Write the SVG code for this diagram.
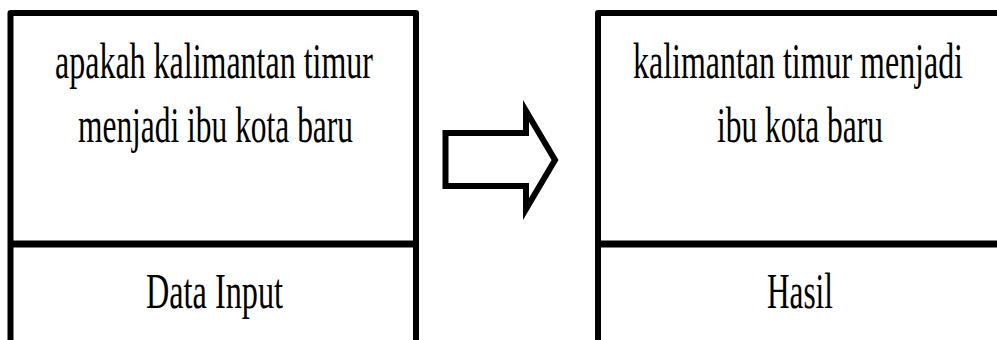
<svg xmlns="http://www.w3.org/2000/svg" width="997" height="340" viewBox="0 0 997 340">
<style>
.box{fill:#fff;stroke:#000;stroke-width:6;stroke-linejoin:round}
.div{stroke:#000;stroke-width:7}
.t{font-family:"Liberation Serif","Times New Roman",serif;font-size:50px;fill:#000;text-anchor:middle}
</style>
<rect width="997" height="340" fill="#fff"/>
<g id="input-node">
<rect class="box" x="10.5" y="13" width="405.5" height="330"/>
<line class="div" x1="10.5" y1="244" x2="416" y2="244"/>
<text class="t" x="214" y="78" textLength="318" lengthAdjust="spacingAndGlyphs">apakah kalimantan timur</text>
<text class="t" x="215.5" y="141.5" textLength="275" lengthAdjust="spacingAndGlyphs">menjadi ibu kota baru</text>
<text class="t" x="214.5" y="308" textLength="137" lengthAdjust="spacingAndGlyphs">Data Input</text>
</g>
<g id="result-node">
<rect class="box" x="598" y="13" width="405" height="330"/>
<line class="div" x1="598" y1="244" x2="1003" y2="244"/>
<text class="t" x="798" y="78" textLength="330" lengthAdjust="spacingAndGlyphs">kalimantan timur menjadi</text>
<text class="t" x="800" y="141.5" textLength="166" lengthAdjust="spacingAndGlyphs">ibu kota baru</text>
<text class="t" x="800" y="308" textLength="66" lengthAdjust="spacingAndGlyphs">Hasil</text>
</g>
<g id="connectors">
<polygon points="445.5,133 526,133 526,111 555,160 526,209 526,186 445.5,186" fill="#fff" stroke="#000" stroke-width="6" stroke-linejoin="miter"/>
</g>
</svg>
